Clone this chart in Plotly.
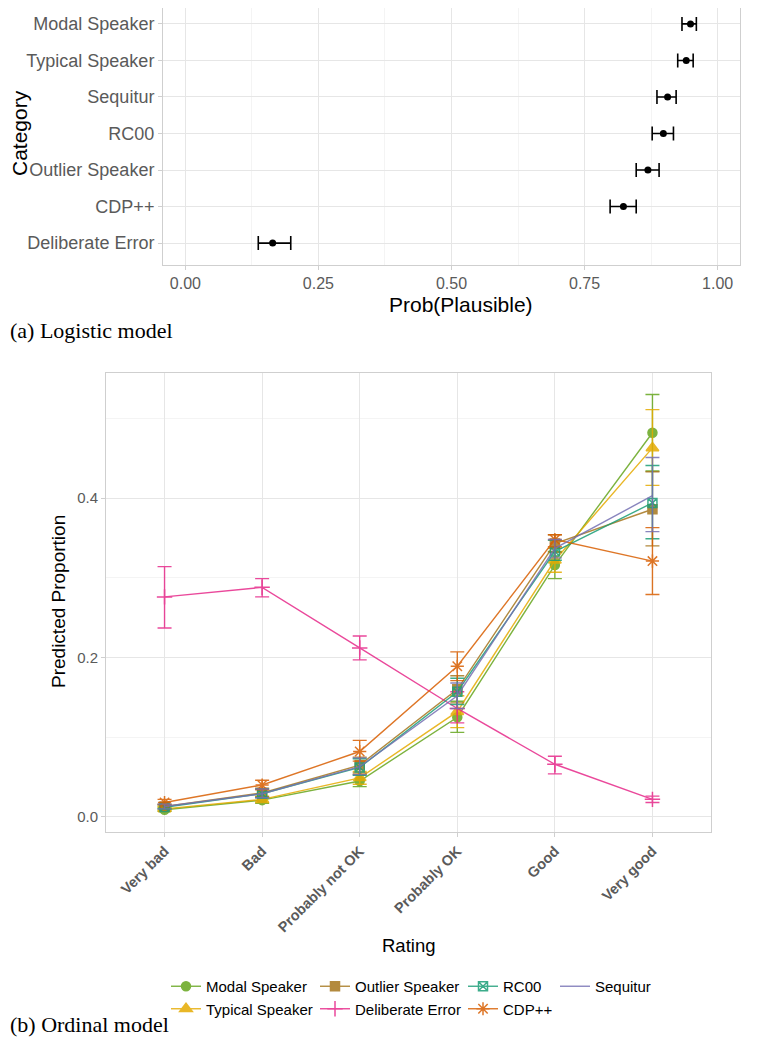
import plotly.graph_objects as go

# page body has an 8px margin, so the figure is drawn 8px in from the top-left
OFF = 8
W, H = 762 - 2 * OFF, 1045 - 2 * OFF

# ---------------- Panel (a): logistic model ----------------
logit_categories = ["Deliberate Error", "CDP++", "Outlier Speaker", "RC00",
                    "Sequitur", "Typical Speaker", "Modal Speaker"]
logit_prob = [0.164, 0.823, 0.869, 0.898, 0.906, 0.941, 0.949]
logit_low = [0.137, 0.798, 0.847, 0.877, 0.886, 0.925, 0.933]
logit_high = [0.198, 0.847, 0.890, 0.917, 0.922, 0.954, 0.960]
logit_ticks = [0.0, 0.25, 0.5, 0.75, 1.0]
logit_ticklabels = ["0.00", "0.25", "0.50", "0.75", "1.00"]

# ---------------- Panel (b): ordinal model ----------------
ratings = ["Very bad", "Bad", "Probably not OK", "Probably OK", "Good", "Very good"]
series_names = ["Modal Speaker", "Typical Speaker", "Outlier Speaker", "Deliberate Error",
                "RC00", "CDP++", "Sequitur"]
modal = [0.009, 0.021, 0.045, 0.125, 0.316, 0.482]
modal_lo = [0.007, 0.017, 0.038, 0.106, 0.299, 0.434]
modal_hi = [0.012, 0.025, 0.053, 0.145, 0.333, 0.530]
typical = [0.010, 0.022, 0.049, 0.132, 0.322, 0.463]
typical_lo = [0.008, 0.018, 0.041, 0.112, 0.307, 0.416]
typical_hi = [0.013, 0.026, 0.057, 0.152, 0.337, 0.511]
outlier = [0.013, 0.030, 0.065, 0.160, 0.343, 0.386]
outlier_lo = [0.010, 0.025, 0.055, 0.143, 0.332, 0.340]
outlier_hi = [0.016, 0.036, 0.075, 0.177, 0.354, 0.433]
deliberate = [0.276, 0.288, 0.212, 0.136, 0.066, 0.022]
deliberate_lo = [0.237, 0.276, 0.197, 0.118, 0.054, 0.018]
deliberate_hi = [0.314, 0.299, 0.227, 0.157, 0.076, 0.026]
rc00 = [0.012, 0.029, 0.062, 0.157, 0.333, 0.394]
rc00_lo = [0.010, 0.024, 0.052, 0.141, 0.322, 0.349]
rc00_hi = [0.015, 0.035, 0.073, 0.174, 0.347, 0.441]
cdp = [0.018, 0.040, 0.082, 0.189, 0.348, 0.321]
cdp_lo = [0.015, 0.034, 0.070, 0.171, 0.339, 0.279]
cdp_hi = [0.022, 0.046, 0.096, 0.207, 0.354, 0.363]
sequitur = [0.013, 0.029, 0.063, 0.152, 0.337, 0.403]
sequitur_lo = [0.010, 0.024, 0.053, 0.136, 0.325, 0.358]
sequitur_hi = [0.016, 0.035, 0.074, 0.168, 0.348, 0.451]
ord_yticks = [0.0, 0.2, 0.4]
ord_yticklabels = ["0.0", "0.2", "0.4"]

series_values = [modal, typical, outlier, deliberate, rc00, cdp, sequitur]
series_lo = [modal_lo, typical_lo, outlier_lo, deliberate_lo, rc00_lo, cdp_lo, sequitur_lo]
series_hi = [modal_hi, typical_hi, outlier_hi, deliberate_hi, rc00_hi, cdp_hi, sequitur_hi]
colors = ["#66A61E", "#E6AB02", "#A6761D", "#E7298A", "#1B9E77", "#D95F02", "#7570B3"]
symbols = ["circle", "triangle-up", "square", "cross-thin-open", "square-x-open",
           "asterisk-open", None]
msizes = [9, 11, 9, 11, 9, 11, 0]
legend_ids = ["legend", "legend", "legend2", "legend2", "legend3", "legend3", "legend4"]

FONT = "Liberation Sans, Arial, sans-serif"
SERIF = "Liberation Serif, Times New Roman, serif"


def px(x):
    return min(max((x - OFF) / W, 0.0), 1.0)


def py(y):
    return min(max(1 - (y - OFF) / H, 0.0), 1.0)


fig = go.Figure()

# panel (a)
fig.add_trace(go.Scatter(
    x=logit_prob, y=logit_categories, mode="markers",
    marker=dict(color="black", size=7),
    error_x=dict(type="data", symmetric=False,
                 array=[h - p for h, p in zip(logit_high, logit_prob)],
                 arrayminus=[p - l for p, l in zip(logit_prob, logit_low)],
                 color="black", thickness=1.6, width=7),
    xaxis="x", yaxis="y", showlegend=False, hoverinfo="skip"))

# panel (b)
for i, name in enumerate(series_names):
    vals = series_values[i]
    plus = [h - v for h, v in zip(series_hi[i], vals)]
    minus = [v - l for v, l in zip(vals, series_lo[i])]
    mode = "lines+markers" if symbols[i] else "lines"
    marker = dict(color=colors[i], size=msizes[i])
    if symbols[i]:
        marker["symbol"] = symbols[i]
        marker["line"] = dict(color=colors[i], width=1.5)
    fig.add_trace(go.Scatter(
        x=ratings, y=vals, mode=mode, name=name,
        line=dict(color=colors[i], width=1.4),
        marker=marker,
        opacity=0.85,
        error_y=dict(type="data", symmetric=False, array=plus, arrayminus=minus,
                     color=colors[i], thickness=1.4, width=7),
        xaxis="x2", yaxis="y2", legend=legend_ids[i], hoverinfo="skip"))

grid_major = "#e6e6e6"
grid_minor = "#f4f4f4"
border = "#cfcfcf"
tickgrey = "#5a5a5a"

# top panel spans y 8..265 px (cannot go above the page margin); keep category spacing
top_px, bot_px = 8, 265
cat_step = 263 / 7.2
top_range = [-0.6, -0.6 + (bot_px - top_px) / cat_step]

fig.update_layout(
    width=W, height=H,
    margin=dict(l=0, r=0, t=0, b=0),
    paper_bgcolor="white", plot_bgcolor="white",
    font=dict(family=FONT, color="black"),
    xaxis=dict(domain=[px(163), px(740)], anchor="y",
               range=[-0.042, 1.042], tickvals=logit_ticks, ticktext=logit_ticklabels,
               showgrid=True, gridcolor=grid_major, gridwidth=1,
               minor=dict(dtick=0.125, tick0=0, showgrid=True, gridcolor=grid_minor),
               zeroline=False, showline=True, mirror=True, linecolor=border, linewidth=1,
               ticks="outside", ticklen=4, tickcolor=border,
               tickfont=dict(size=16, color=tickgrey, family=FONT)),
    yaxis=dict(domain=[py(bot_px), py(top_px)], anchor="x",
               type="category", categoryorder="array", categoryarray=logit_categories,
               range=top_range,
               showgrid=True, gridcolor=grid_major, zeroline=False,
               showline=True, mirror=True, linecolor=border, linewidth=1,
               ticks="outside", ticklen=4, tickcolor=border,
               tickfont=dict(size=18, color=tickgrey, family=FONT)),
    xaxis2=dict(domain=[px(106), px(711)], anchor="y2",
                type="category", categoryorder="array", categoryarray=ratings,
                range=[-0.6, 5.6],
                showgrid=True, gridcolor=grid_major, zeroline=False,
                showline=True, mirror=True, linecolor=border, linewidth=1,
                ticks="outside", ticklen=4, tickcolor=border, tickangle=-45,
                tickfont=dict(size=14.5, color=tickgrey, family=FONT, weight="bold")),
    yaxis2=dict(domain=[py(832), py(373)], anchor="x2",
                range=[-0.019, 0.557], tickvals=ord_yticks, ticktext=ord_yticklabels,
                showgrid=True, gridcolor=grid_major,
                minor=dict(dtick=0.1, tick0=0, showgrid=True, gridcolor=grid_minor),
                zeroline=False, showline=True, mirror=True, linecolor=border, linewidth=1,
                ticks="outside", ticklen=4, tickcolor=border,
                tickfont=dict(size=15, color=tickgrey, family=FONT)),
)

leg_common = dict(orientation="v", xanchor="left", yanchor="top", y=py(970),
                  font=dict(size=15, family=FONT, color="black"),
                  bgcolor="rgba(0,0,0,0)", tracegroupgap=0, itemclick=False)
fig.update_layout(
    legend=dict(x=px(166), **leg_common),
    legend2=dict(x=px(315), **leg_common),
    legend3=dict(x=px(463), **leg_common),
    legend4=dict(x=px(555), **leg_common),
)

annos = [
    dict(text="Category", x=px(20), y=py(133), textangle=-90, size=21),
    dict(text="Prob(Plausible)", x=px(461), y=py(305), size=21),
    dict(text="Predicted Proportion", x=px(58), y=py(602), textangle=-90, size=19),
    dict(text="Rating", x=px(408), y=py(945), size=18.5),
]
for a in annos:
    fig.add_annotation(xref="paper", yref="paper", showarrow=False,
                       xanchor="center", yanchor="middle",
                       font=dict(family=FONT, color="black", size=a["size"]),
                       text=a["text"], x=a["x"], y=a["y"], textangle=a.get("textangle", 0))

fig.add_annotation(xref="paper", yref="paper", showarrow=False,
                   xanchor="left", yanchor="middle", x=0, y=py(330),
                   text="(a) Logistic model", font=dict(family=SERIF, size=22, color="black"))
fig.add_annotation(xref="paper", yref="paper", showarrow=False,
                   xanchor="left", yanchor="bottom", x=0, y=0, yshift=-2,
                   text="(b) Ordinal model", font=dict(family=SERIF, size=22, color="black"))

fig.write_html("out.html")
